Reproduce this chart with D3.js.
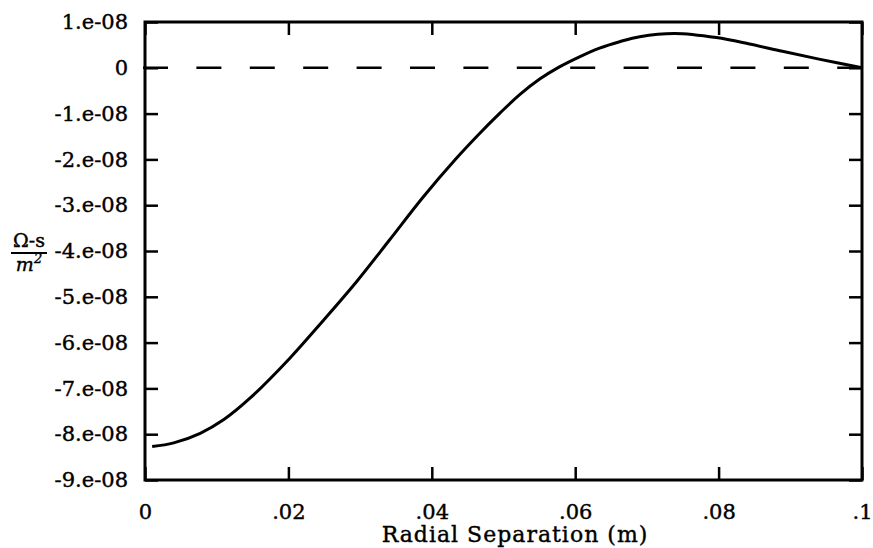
<!DOCTYPE html>
<html>
<head>
<meta charset="utf-8">
<script src="https://cdn.jsdelivr.net/npm/d3@7"></script>
<style>
  body { margin: 0; background: #fff; }
  text { font-family: "DejaVu Serif", serif; fill: #000; stroke: #000; stroke-width: 0.4px; }
</style>
</head>
<body>
<script>
// Curve (x in m, y in units of 1e-8 ohm-s/m^2)
var sep = [0.001, 0.004, 0.0077, 0.011, 0.0146, 0.0202, 0.0249, 0.0295, 0.0341, 0.0388,
           0.0434, 0.0465, 0.0495, 0.0523, 0.0551, 0.0578, 0.0606, 0.0634, 0.0662, 0.069,
           0.0739, 0.0797, 0.0843, 0.0889, 0.094, 0.1];
var resp = [-8.27, -8.19, -7.98, -7.68, -7.22, -6.34, -5.51, -4.67, -3.76, -2.82,
            -1.98, -1.46, -0.99, -0.58, -0.24, 0.02, 0.24, 0.43, 0.57, 0.68,
            0.75, 0.66, 0.52, 0.36, 0.19, 0.0];

var xTicks = [0, 0.02, 0.04, 0.06, 0.08, 0.1];
var xTickLabels = ["0", ".02", ".04", ".06", ".08", ".1"];
var yTicks = [1, 0, -1, -2, -3, -4, -5, -6, -7, -8, -9];
var yTickLabels = ["1.e-08", "0", "-1.e-08", "-2.e-08", "-3.e-08", "-4.e-08",
                   "-5.e-08", "-6.e-08", "-7.e-08", "-8.e-08", "-9.e-08"];

var svg_width = 873, svg_height = 548;
var plot_left = 145, plot_right = 862, plot_top = 22, plot_bottom = 480;
var tick_len = 13;

var svg = d3.select("body").append("svg")
  .attr("width", svg_width)
  .attr("height", svg_height);

var x = d3.scaleLinear().domain([0, 0.1]).range([plot_left, plot_right]);
var y = d3.scaleLinear().domain([-9, 1]).range([plot_bottom, plot_top]);

// zero reference line
svg.append("line")
  .attr("x1", plot_left - 2).attr("x2", plot_right)
  .attr("y1", y(0)).attr("y2", y(0))
  .attr("stroke", "#000")
  .attr("stroke-width", 2.5)
  .attr("stroke-dasharray", "25,28.4");

// axes, ticks pointing inward
var fmtX = function(d) { return xTickLabels[xTicks.indexOf(d)]; };
var fmtY = function(d) { return yTickLabels[yTicks.indexOf(d)]; };

var gx = svg.append("g")
  .attr("transform", "translate(0," + plot_bottom + ")")
  .call(d3.axisBottom(x).tickValues(xTicks).tickFormat(fmtX)
    .tickSize(-tick_len).tickSizeOuter(0).tickPadding(24));

var gxTop = svg.append("g")
  .attr("transform", "translate(0," + plot_top + ")")
  .call(d3.axisTop(x).tickValues(xTicks).tickFormat("").tickSize(-tick_len).tickSizeOuter(0));

var gy = svg.append("g")
  .attr("transform", "translate(" + plot_left + ",0)")
  .call(d3.axisLeft(y).tickValues(yTicks).tickFormat(fmtY)
    .tickSize(-tick_len).tickSizeOuter(0).tickPadding(17));

var gyRight = svg.append("g")
  .attr("transform", "translate(" + plot_right + ",0)")
  .call(d3.axisRight(y).tickValues(yTicks).tickFormat("").tickSize(-tick_len).tickSizeOuter(0));

[gx, gxTop, gy, gyRight].forEach(function(g) {
  g.select(".domain").remove();
  g.selectAll(".tick line").attr("stroke", "#000").attr("stroke-width", 2.5);
  g.selectAll(".tick text")
    .attr("font-family", "DejaVu Serif")
    .attr("font-size", 21)
    .attr("fill", "#000");
});

// frame
svg.append("rect")
  .attr("x", plot_left).attr("y", plot_top)
  .attr("width", plot_right - plot_left).attr("height", plot_bottom - plot_top)
  .attr("fill", "none")
  .attr("stroke", "#000")
  .attr("stroke-width", 3);

// curve
var line = d3.line()
  .x(function(d, i) { return x(sep[i]); })
  .y(function(d) { return y(d); })
  .curve(d3.curveCatmullRom);

svg.append("path")
  .datum(resp)
  .attr("d", line)
  .attr("fill", "none")
  .attr("stroke", "#000")
  .attr("stroke-width", 3);

// x axis title
svg.append("text")
  .attr("x", 515)
  .attr("y", 542)
  .attr("text-anchor", "middle")
  .attr("font-size", 22)
  .attr("letter-spacing", 1)
  .text("Radial Separation (m)");

// y axis title as a fraction
var ylab = svg.append("g").attr("transform", "translate(29,0)");
ylab.append("text")
  .attr("y", 247)
  .attr("text-anchor", "middle")
  .attr("font-size", 19)
  .text("Ω-s");
ylab.append("line")
  .attr("x1", -18).attr("x2", 18)
  .attr("y1", 253).attr("y2", 253)
  .attr("stroke", "#000").attr("stroke-width", 2.2);
var m2 = ylab.append("text")
  .attr("y", 271)
  .attr("text-anchor", "middle")
  .attr("font-size", 19)
  .attr("font-style", "italic");
m2.append("tspan").text("m");
m2.append("tspan").attr("dy", -8).attr("font-size", 13).text("2");
</script>
</body>
</html>
